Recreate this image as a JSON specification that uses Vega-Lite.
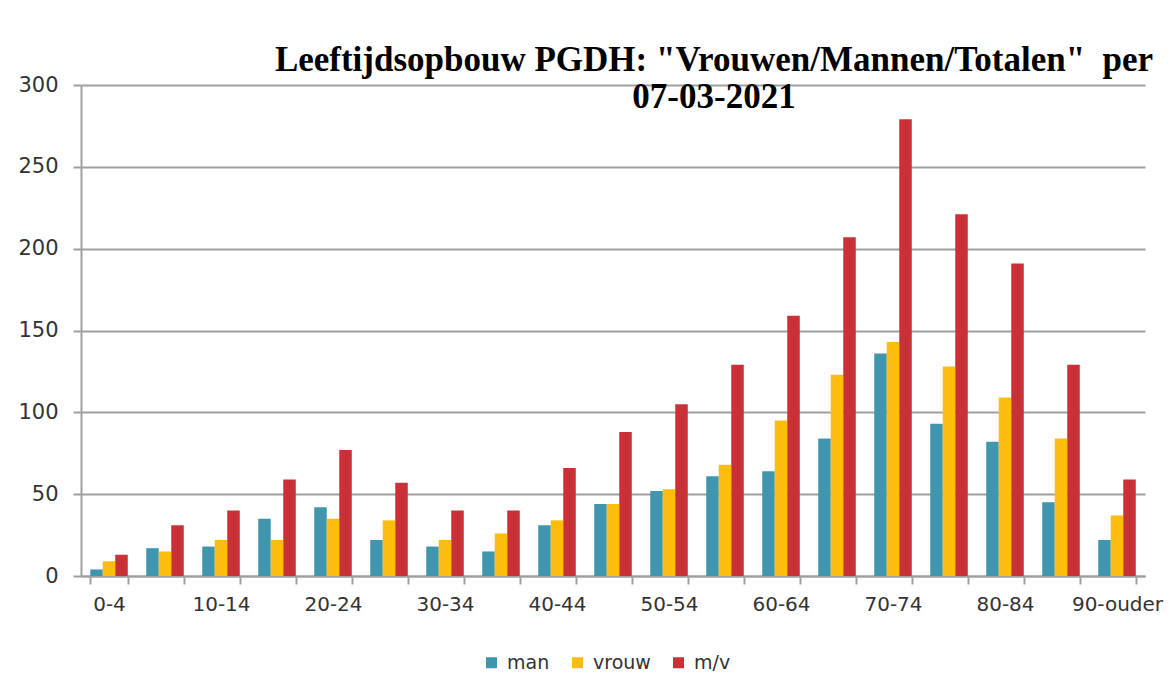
{
  "$schema": "https://vega.github.io/schema/vega-lite/v6.json",
  "width": 1064,
  "height": 491,
  "autosize": {"type": "none"},
  "padding": {"left": 81, "top": 85, "right": 26, "bottom": 112},
  "background": "white",
  "title": {
    "text": ["Leeftijdsopbouw PGDH: \"Vrouwen/Mannen/Totalen\"\u00a0\u00a0per", "07-03-2021"],
    "font": "Liberation Serif",
    "fontWeight": "bold",
    "fontSize": 35,
    "color": "#000000",
    "anchor": "middle",
    "dx": 101,
    "baseline": "alphabetic",
    "lineHeight": 37,
    "offset": -69
  },
  "data": {
    "values": [
      {"leeftijd": "0-4", "groep": "man", "aantal": 4},
      {"leeftijd": "0-4", "groep": "vrouw", "aantal": 9},
      {"leeftijd": "0-4", "groep": "m/v", "aantal": 13},
      {"leeftijd": "5-9", "groep": "man", "aantal": 17},
      {"leeftijd": "5-9", "groep": "vrouw", "aantal": 15},
      {"leeftijd": "5-9", "groep": "m/v", "aantal": 31},
      {"leeftijd": "10-14", "groep": "man", "aantal": 18},
      {"leeftijd": "10-14", "groep": "vrouw", "aantal": 22},
      {"leeftijd": "10-14", "groep": "m/v", "aantal": 40},
      {"leeftijd": "15-19", "groep": "man", "aantal": 35},
      {"leeftijd": "15-19", "groep": "vrouw", "aantal": 22},
      {"leeftijd": "15-19", "groep": "m/v", "aantal": 59},
      {"leeftijd": "20-24", "groep": "man", "aantal": 42},
      {"leeftijd": "20-24", "groep": "vrouw", "aantal": 35},
      {"leeftijd": "20-24", "groep": "m/v", "aantal": 77},
      {"leeftijd": "25-29", "groep": "man", "aantal": 22},
      {"leeftijd": "25-29", "groep": "vrouw", "aantal": 34},
      {"leeftijd": "25-29", "groep": "m/v", "aantal": 57},
      {"leeftijd": "30-34", "groep": "man", "aantal": 18},
      {"leeftijd": "30-34", "groep": "vrouw", "aantal": 22},
      {"leeftijd": "30-34", "groep": "m/v", "aantal": 40},
      {"leeftijd": "35-39", "groep": "man", "aantal": 15},
      {"leeftijd": "35-39", "groep": "vrouw", "aantal": 26},
      {"leeftijd": "35-39", "groep": "m/v", "aantal": 40},
      {"leeftijd": "40-44", "groep": "man", "aantal": 31},
      {"leeftijd": "40-44", "groep": "vrouw", "aantal": 34},
      {"leeftijd": "40-44", "groep": "m/v", "aantal": 66},
      {"leeftijd": "45-49", "groep": "man", "aantal": 44},
      {"leeftijd": "45-49", "groep": "vrouw", "aantal": 44},
      {"leeftijd": "45-49", "groep": "m/v", "aantal": 88},
      {"leeftijd": "50-54", "groep": "man", "aantal": 52},
      {"leeftijd": "50-54", "groep": "vrouw", "aantal": 53},
      {"leeftijd": "50-54", "groep": "m/v", "aantal": 105},
      {"leeftijd": "55-59", "groep": "man", "aantal": 61},
      {"leeftijd": "55-59", "groep": "vrouw", "aantal": 68},
      {"leeftijd": "55-59", "groep": "m/v", "aantal": 129},
      {"leeftijd": "60-64", "groep": "man", "aantal": 64},
      {"leeftijd": "60-64", "groep": "vrouw", "aantal": 95},
      {"leeftijd": "60-64", "groep": "m/v", "aantal": 159},
      {"leeftijd": "65-69", "groep": "man", "aantal": 84},
      {"leeftijd": "65-69", "groep": "vrouw", "aantal": 123},
      {"leeftijd": "65-69", "groep": "m/v", "aantal": 207},
      {"leeftijd": "70-74", "groep": "man", "aantal": 136},
      {"leeftijd": "70-74", "groep": "vrouw", "aantal": 143},
      {"leeftijd": "70-74", "groep": "m/v", "aantal": 279},
      {"leeftijd": "75-79", "groep": "man", "aantal": 93},
      {"leeftijd": "75-79", "groep": "vrouw", "aantal": 128},
      {"leeftijd": "75-79", "groep": "m/v", "aantal": 221},
      {"leeftijd": "80-84", "groep": "man", "aantal": 82},
      {"leeftijd": "80-84", "groep": "vrouw", "aantal": 109},
      {"leeftijd": "80-84", "groep": "m/v", "aantal": 191},
      {"leeftijd": "85-89", "groep": "man", "aantal": 45},
      {"leeftijd": "85-89", "groep": "vrouw", "aantal": 84},
      {"leeftijd": "85-89", "groep": "m/v", "aantal": 129},
      {"leeftijd": "90-ouder", "groep": "man", "aantal": 22},
      {"leeftijd": "90-ouder", "groep": "vrouw", "aantal": 37},
      {"leeftijd": "90-ouder", "groep": "m/v", "aantal": 59}
    ]
  },
  "mark": {"type": "bar"},
  "encoding": {
    "x": {
      "field": "leeftijd",
      "type": "nominal",
      "sort": null,
      "title": null,
      "scale": {"paddingInner": 0.33, "paddingOuter": 0.165},
      "axis": {
        "labelAngle": 0,
        "tickBand": "extent",
        "labelOverlap": false,
        "labelExpr": "indexof(['0-4','10-14','20-24','30-34','40-44','50-54','60-64','70-74','80-84','90-ouder'], datum.value) >= 0 ? datum.label : ''",
        "labelFont": "DejaVu Sans",
        "labelFontSize": 20,
        "labelColor": "#333333",
        "labelPadding": 10,
        "tickSize": 8,
        "tickColor": "#a0a0a0",
        "tickWidth": 2,
        "domainColor": "#a0a0a0",
        "domainWidth": 2,
        "grid": false
      }
    },
    "xOffset": {
      "field": "groep",
      "type": "nominal",
      "sort": ["man", "vrouw", "m/v"],
      "scale": {"paddingInner": 0, "paddingOuter": 0}
    },
    "y": {
      "field": "aantal",
      "type": "quantitative",
      "title": null,
      "scale": {"domain": [0, 300], "nice": false},
      "axis": {
        "values": [0, 50, 100, 150, 200, 250, 300],
        "labelFont": "DejaVu Sans",
        "labelFontSize": 21,
        "labelColor": "#333333",
        "labelPadding": 15,
        "tickSize": 8,
        "tickColor": "#a0a0a0",
        "tickWidth": 2,
        "domainColor": "#a0a0a0",
        "domainWidth": 2,
        "gridColor": "#a0a0a0",
        "gridWidth": 2
      }
    },
    "color": {
      "field": "groep",
      "type": "nominal",
      "sort": ["man", "vrouw", "m/v"],
      "scale": {"domain": ["man", "vrouw", "m/v"], "range": ["#4096ad", "#fdbd10", "#c83236"]},
      "legend": {
        "title": null,
        "orient": "none",
        "direction": "horizontal",
        "legendX": 401,
        "legendY": 568,
        "symbolType": "square",
        "symbolSize": 121,
        "symbolStrokeWidth": 0,
        "labelFont": "DejaVu Sans",
        "labelFontSize": 19,
        "labelColor": "#333333",
        "labelOffset": 6,
        "columnPadding": 18
      }
    }
  },
  "config": {
    "view": {"stroke": null}
  }
}
